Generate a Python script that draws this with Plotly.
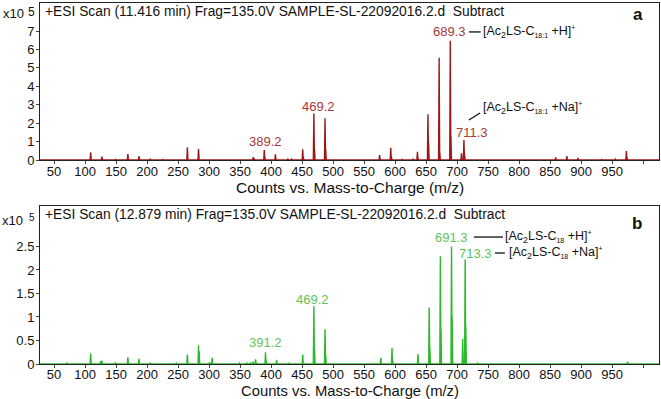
import plotly.graph_objects as go

# ---------------- data ----------------
# Panel a: Ac2LS-C18:1 spectrum (m/z, counts x10^5)
mz_a = [71, 109, 127, 128, 149, 169, 187, 205, 225, 247, 265, 283, 299, 331, 349, 355,
        371, 373, 389, 390, 407, 427, 433, 451, 452, 469, 470, 487, 488, 509, 527, 549,
        575, 593, 594, 611, 629, 636, 637, 653, 654, 671, 672, 689, 690, 707, 711, 712,
        733, 775, 859, 877, 895, 933, 955, 973, 974]
int_a = [0.03, 0.42, 0.18, 0.08, 0.03, 0.33, 0.22, 0.05, 0.03, 0.04, 0.69, 0.60, 0.04, 0.03, 0.02, 0.03,
         0.15, 0.05, 0.54, 0.15, 0.31, 0.05, 0.05, 0.58, 0.15, 2.53, 0.60, 2.26, 0.60, 0.03, 0.03, 0.04,
         0.27, 0.67, 0.18, 0.04, 0.05, 0.45, 0.10, 2.48, 0.95, 5.55, 0.45, 6.47, 1.30, 0.36, 1.08, 0.30,
         0.03, 0.02, 0.14, 0.22, 0.11, 0.03, 0.05, 0.49, 0.15]

# Panel b: Ac2LS-C18 spectrum
mz_b = [71, 109, 125, 127, 149, 169, 187, 205, 247, 265, 283, 284, 301, 305, 349, 361,
        367, 371, 375, 391, 392, 409, 429, 451, 469, 470, 487, 488, 577, 595, 596, 637,
        655, 656, 673, 674, 691, 692, 709, 713, 714, 733, 975]
int_b = [0.02, 0.22, 0.06, 0.07, 0.03, 0.14, 0.11, 0.02, 0.02, 0.20, 0.40, 0.27, 0.04, 0.13, 0.02, 0.02,
         0.03, 0.05, 0.10, 0.25, 0.08, 0.09, 0.02, 0.20, 1.23, 0.30, 0.74, 0.20, 0.13, 0.34, 0.08, 0.21,
         1.20, 0.35, 2.29, 0.75, 2.50, 1.00, 0.53, 2.22, 0.80, 0.02, 0.05]

x_tickvals = list(range(50, 1001, 50))
x_ticktext = [str(v) for v in range(50, 951, 50)] + [""]
ya_tickvals = [0, 1, 2, 3, 4, 5, 6, 7]
ya_ticktext = ["0", "1", "2", "3", "4", "5", "6", "7"]
yb_tickvals = [0, 0.5, 1, 1.5, 2, 2.5]
yb_ticktext = ["0", "0.5", "1", "1.5", "2", "2.5"]

title_a = "+ESI Scan (11.416 min) Frag=135.0V SAMPLE-SL-22092016.2.d  Subtract"
title_b = "+ESI Scan (12.879 min) Frag=135.0V SAMPLE-SL-22092016.2.d  Subtract"
xlabel = "Counts vs. Mass-to-Charge (m/z)"

X_RANGE = [27.3, 1025.6]
FONT = "Liberation Sans, Arial, sans-serif"
RED = "#9c1818"
RED_TXT = "#a8383c"
GREEN = "#2cb82c"
GREEN_TXT = "#62c25a"


def profile(mz, inten, half=0.9):
    xs, ys = [X_RANGE[0]], [0]
    for m, h in sorted(zip(mz, inten)):
        xs += [m - half, m, m + half]
        ys += [0, h, 0]
    xs.append(X_RANGE[1])
    ys.append(0)
    return xs, ys


fig = go.Figure()
xa, ya = profile(mz_a, int_a)
xb, yb = profile(mz_b, int_b)
fig.add_trace(go.Scatter(x=xa, y=ya, mode="lines", line=dict(color=RED, width=1.4),
                         xaxis="x", yaxis="y", showlegend=False, hoverinfo="skip"))
fig.add_trace(go.Scatter(x=xb, y=yb, mode="lines", line=dict(color=GREEN, width=1.4),
                         xaxis="x2", yaxis="y2", showlegend=False, hoverinfo="skip"))

axis_common = dict(showline=True, linecolor="#222", linewidth=1, mirror=True,
                   ticks="outside", ticklen=3, tickcolor="#444", showgrid=False,
                   zeroline=False, tickfont=dict(family=FONT, size=13, color="#111"))

fig.update_layout(
    width=661, height=399,
    margin=dict(l=40, r=2, t=3, b=35),
    paper_bgcolor="white", plot_bgcolor="white",
    font=dict(family=FONT, color="#111"),
    xaxis=dict(domain=[0, 1], range=X_RANGE, tickvals=x_tickvals, ticktext=x_ticktext,
               anchor="y", ticklabelstandoff=-4, **axis_common),
    yaxis=dict(domain=[0.565, 1], range=[0, 8.52], tickvals=ya_tickvals, ticktext=ya_ticktext,
               anchor="x", ticklabelstandoff=-1, **axis_common),
    xaxis2=dict(domain=[0, 1], range=X_RANGE, tickvals=x_tickvals, ticktext=x_ticktext,
                anchor="y2", ticklabelstandoff=-5, **axis_common),
    yaxis2=dict(domain=[0, 0.4377], range=[0, 3.36], tickvals=yb_tickvals, ticktext=yb_ticktext,
                anchor="x2", ticklabelstandoff=-1, **axis_common),
)

ann = []


def txt(text, x, y, xref, yref, size=13, color="#111", xanchor="center", yanchor="middle", bold=False):
    if bold:
        text = "<b>" + text + "</b>"
    ann.append(dict(text=text, x=x, y=y, xref=xref, yref=yref, showarrow=False,
                    xanchor=xanchor, yanchor=yanchor, borderpad=0,
                    font=dict(family=FONT, size=size, color=color)))


def ion(chain, adduct):
    return ("[Ac<sub>2</sub>LS-C<sub><span style=\"font-size:7px\">" + chain +
            "</span></sub> +" + adduct + "]<sup><span style=\"font-size:7px\">+</span></sup>")


# headers
txt(title_a, 0.0065, 0.943, "x domain", "y domain", size=13.8, xanchor="left")
txt(title_b, 0.0065, 0.943, "x2 domain", "y2 domain", size=13.8, xanchor="left")
txt("a", 0.966, 0.924, "x domain", "y domain", size=17, bold=True)
txt("b", 0.964, 0.892, "x2 domain", "y2 domain", size=17, bold=True)
# multipliers
txt("x10", -0.0242, 0.93, "paper", "y domain", size=13, xanchor="right")
txt("5", -0.013, 0.943, "paper", "y domain", size=12)
txt("x10", -0.0258, 0.907, "paper", "y2 domain", size=13, xanchor="right")
txt("5", -0.013, 0.925, "paper", "y2 domain", size=10)
# axis titles
txt(xlabel, 0.5, 0.4903, "x domain", "paper", size=15.5)
txt(xlabel, 0.5, -0.1, "x2 domain", "paper", size=14.8, yanchor="bottom")

# panel a peak labels
txt("389.2", 391, 0.99, "x", "y", color=RED_TXT)
txt("469.2", 476, 2.93, "x", "y", color=RED_TXT)
txt("689.3", 688, 6.95, "x", "y", color=RED_TXT)
txt("711.3", 724, 1.52, "x", "y", color=RED_TXT)
txt(ion("18:1", "H"), 740, 6.95, "x", "y", size=12.5, xanchor="left")
txt(ion("18:1", "Na"), 740, 2.82, "x", "y", size=12.5, xanchor="left")
# panel b peak labels
txt("391.2", 391, 0.45, "x2", "y2", color=GREEN_TXT)
txt("469.2", 466, 1.38, "x2", "y2", color=GREEN_TXT)
txt("691.3", 691, 2.70, "x2", "y2", color=GREEN_TXT)
txt("713.3", 729, 2.36, "x2", "y2", color=GREEN_TXT)
txt(ion("18", "H"), 776, 2.70, "x2", "y2", size=12.5, xanchor="left")
txt(ion("18", "Na"), 782, 2.36, "x2", "y2", size=12.5, xanchor="left")

fig.update_layout(annotations=ann)

shapes = [
    dict(type="line", xref="x", yref="y", x0=719, x1=738, y0=6.95, y1=6.95, line=dict(color="#111", width=1.3)),
    dict(type="line", xref="x", yref="y", x0=719, x1=737, y0=2.17, y1=2.55, line=dict(color="#111", width=1.3)),
    dict(type="line", xref="x2", yref="y2", x0=727, x1=774, y0=2.70, y1=2.70, line=dict(color="#111", width=1.3)),
    dict(type="line", xref="x2", yref="y2", x0=761, x1=777, y0=2.36, y1=2.36, line=dict(color="#111", width=1.3)),
]
fig.update_layout(shapes=shapes)

fig.write_html("out.html", config={"displayModeBar": False},
               post_script="document.body.style.margin='0';document.body.style.padding='0';")
